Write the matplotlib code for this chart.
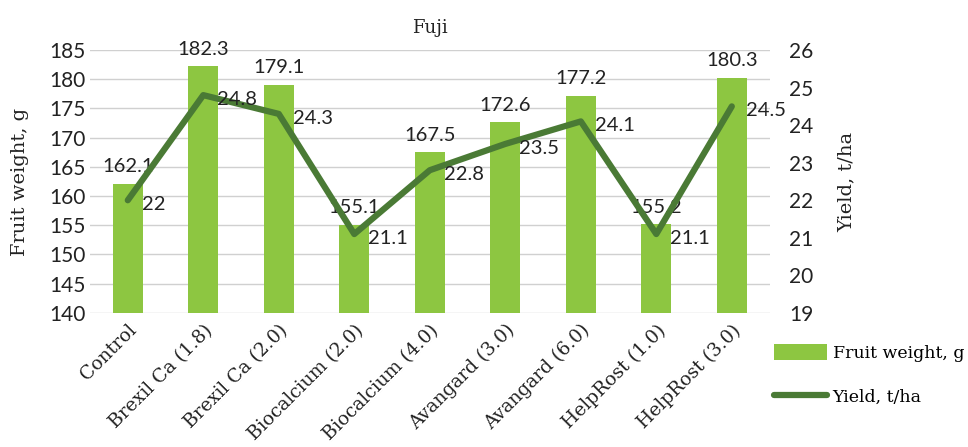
import matplotlib
matplotlib.use('Agg')
import matplotlib.pyplot as plt

categories = ['Control', 'Brexil Ca (1.8)', 'Brexil Ca (2.0)', 'Biocalcium (2.0)',
              'Biocalcium (4.0)', 'Avangard (3.0)', 'Avangard (6.0)',
              'HelpRost (1.0)', 'HelpRost (3.0)']
fruit_weight = [162.1, 182.3, 179.1, 155.1, 167.5, 172.6, 177.2, 155.2, 180.3]
yield_tha = [22, 24.8, 24.3, 21.1, 22.8, 23.5, 24.1, 21.1, 24.5]

bar_color = '#8DC641'
line_color = '#4A7A35'
serif = 'DejaVu Serif'
sans = 'Lato'

fig = plt.figure(figsize=(9.68, 4.47), dpi=100)
ax = fig.add_axes([0.093, 0.300, 0.702, 0.588])
ax2 = ax.twinx()

x = list(range(len(categories)))
bars = ax.bar(x, fruit_weight, width=0.4, color=bar_color, label='Fruit weight, g', zorder=2)
line, = ax2.plot(x, yield_tha, color=line_color, lw=4.5, solid_capstyle='round',
                 label='Yield, t/ha', zorder=3)

ax.set_ylim(140, 185)
ax.set_yticks(range(140, 186, 5))
ax2.set_ylim(19, 26)
ax2.set_yticks(range(19, 27))
ax.set_xlim(-0.5, len(categories) - 0.5)
ax.set_xticks(x)
ax.set_xticklabels(categories, rotation=45, ha='right', rotation_mode='anchor',
                   family=serif, fontsize=13.5, color='#222222')

ax.grid(axis='y', color='#D0D0D0', lw=1, zorder=0)
ax.set_axisbelow(True)
for a in (ax, ax2):
    for s in a.spines.values():
        s.set_visible(False)
    a.tick_params(length=0)
ax.tick_params(axis='x', pad=6)
for lab in ax.get_yticklabels():
    lab.set_family(sans)
    lab.set_fontsize(15)
    lab.set_color('#222222')
for lab in ax2.get_yticklabels():
    lab.set_family(sans)
    lab.set_fontsize(15)
    lab.set_color('#222222')
ax2.tick_params(axis='y', pad=14)

ax.set_ylabel('Fruit weight, g', family=serif, fontsize=14, color='#222222', va='center')
ax.yaxis.set_label_coords(-0.103, 0.5)
ax2.set_ylabel('Yield, t/ha', family=serif, fontsize=14, color='#222222',
               rotation=90, va='center')
ax2.yaxis.set_label_coords(1.113, 0.5)
ax.set_title('Fuji', family=serif, fontsize=13, color='#222222', pad=12)

for xi, v in zip(x, fruit_weight):
    ax.annotate(f'{v}', (xi, v), xytext=(0, 6), textcoords='offset points',
                ha='center', va='bottom', family=sans, fontsize=14.5, color='#222222')
for xi, v in zip(x, yield_tha):
    ax2.annotate(f'{v:g}', (xi, v), xytext=(10, -3), textcoords='offset points',
                 ha='left', va='center', family=sans, fontsize=14.5, color='#222222')

fig.legend([bars, line], ['Fruit weight, g', 'Yield, t/ha'], loc='upper left',
           bbox_to_anchor=(0.783, 0.265), frameon=False, prop={'family': serif, 'size': 12.5},
           handlelength=3.1, handleheight=1.0, labelspacing=1.5, handletextpad=0.3)

fig.savefig('out.png', dpi=100)
